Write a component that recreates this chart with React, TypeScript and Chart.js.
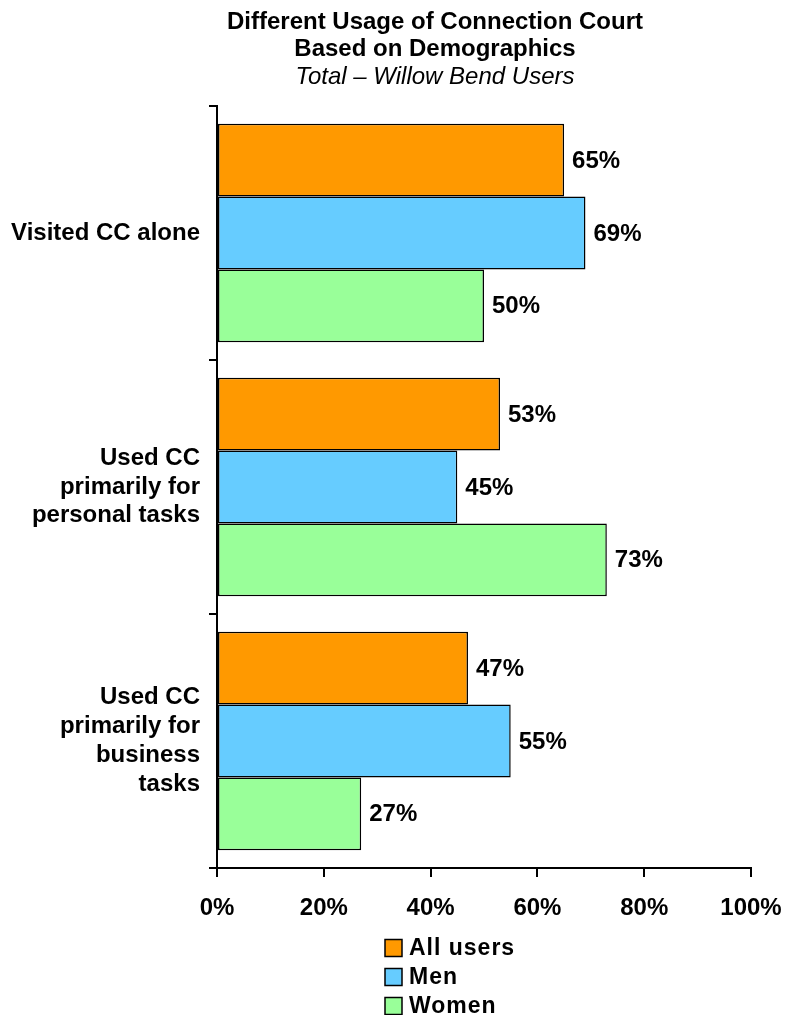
import React, { useEffect, useRef } from "react";
import { Chart, registerables } from "chart.js";

Chart.register(...registerables);

const FONT = "'Liberation Sans', Arial, Helvetica, sans-serif";

const titleLines = ["Different Usage of Connection Court", "Based on Demographics"];
const subtitleText = "Total – Willow Bend Users";

const categories: string[][] = [
  ["Visited CC alone"],
  ["Used CC", "primarily for", "personal tasks"],
  ["Used CC", "primarily for", "business", "tasks"],
];

const seriesNames = ["All users", "Men", "Women"];
const allUsers = [65, 53, 47];
const men = [69, 45, 55];
const women = [50, 73, 27];
const seriesColors = ["#FF9900", "#66CCFF", "#99FF99"];

const xMin = 0;
const xMax = 100;
const xStep = 20;

const titlePlugin = {
  id: "customTitle",
  afterDraw(chart: any) {
    const ctx = chart.ctx;
    ctx.save();
    ctx.fillStyle = "#000";
    ctx.textAlign = "center";
    ctx.textBaseline = "middle";
    ctx.font = `bold 24px ${FONT}`;
    ctx.fillText(titleLines[0], 435, 22);
    ctx.fillText(titleLines[1], 435, 49);
    ctx.font = `italic 24px ${FONT}`;
    ctx.fillText(subtitleText, 435, 77.5);
    ctx.restore();
  },
};

const valueLabelPlugin = {
  id: "valueLabels",
  afterDatasetsDraw(chart: any) {
    const ctx = chart.ctx;
    ctx.save();
    ctx.fillStyle = "#000";
    ctx.textAlign = "left";
    ctx.textBaseline = "middle";
    ctx.font = `bold 24px ${FONT}`;
    chart.data.datasets.forEach((ds: any, i: number) => {
      const meta = chart.getDatasetMeta(i);
      meta.data.forEach((bar: any, j: number) => {
        ctx.fillText(`${ds.data[j]}%`, bar.x + 8, bar.y + 1);
      });
    });
    ctx.restore();
  },
};

const legendPlugin = {
  id: "verticalLegend",
  afterDraw(chart: any) {
    const ctx = chart.ctx;
    ctx.save();
    ctx.textAlign = "left";
    ctx.textBaseline = "middle";
    ctx.font = `bold 23px ${FONT}`;
    try {
      (ctx as any).letterSpacing = "1px";
    } catch (e) {}
    const x0 = 385;
    const y0 = 948;
    const gap = 29;
    chart.data.datasets.forEach((ds: any, i: number) => {
      const cy = y0 + i * gap;
      ctx.fillStyle = ds.backgroundColor;
      ctx.fillRect(x0, cy - 8.5, 17, 17);
      ctx.lineWidth = 1.5;
      ctx.strokeStyle = "#000";
      ctx.strokeRect(x0, cy - 8.5, 17, 17);
      ctx.fillStyle = "#000";
      ctx.fillText(ds.label, x0 + 24, cy + 1);
    });
    ctx.restore();
  },
};

export default function App() {
  const canvasRef = useRef<HTMLCanvasElement | null>(null);

  useEffect(() => {
    const canvas = canvasRef.current;
    if (!canvas) return;
    const seriesValues = [allUsers, men, women];
    const chart = new Chart(canvas, {
      type: "bar",
      data: {
        labels: categories,
        datasets: seriesNames.map((name, i) => ({
          label: name,
          data: seriesValues[i],
          backgroundColor: seriesColors[i],
          borderColor: "#000",
          borderWidth: 1.5,
          borderSkipped: false,
          categoryPercentage: 0.86,
          barPercentage: 1.0,
        })),
      },
      options: {
        indexAxis: "y",
        responsive: false,
        animation: false,
        devicePixelRatio: 1,
        layout: { padding: { top: 106, right: 37, bottom: 87, left: 0 } },
        plugins: {
          legend: { display: false },
          title: { display: false },
          tooltip: { enabled: false },
        },
        scales: {
          x: {
            type: "linear",
            min: xMin,
            max: xMax,
            afterFit(scale: any) {
              scale.height = 60;
              scale.paddingLeft = 0;
              scale.paddingRight = 0;
            },
            ticks: {
              stepSize: xStep,
              color: "#000",
              padding: 17,
              font: { family: FONT, size: 24, weight: "bold" },
              callback: (v: any) => `${v}%`,
            },
            grid: {
              drawOnChartArea: false,
              drawTicks: true,
              tickLength: 9,
              color: "#000",
              lineWidth: 2,
            },
            border: { display: true, color: "#000", width: 2 },
          },
          y: {
            type: "category",
            afterFit(scale: any) {
              scale.width = 217;
              scale.paddingTop = 0;
              scale.paddingBottom = 0;
            },
            ticks: {
              color: "#000",
              padding: 9,
              autoSkip: false,
              font: { family: FONT, size: 24, weight: "bold", lineHeight: 1.2 },
            },
            grid: {
              offset: true,
              drawOnChartArea: false,
              drawTicks: true,
              tickLength: 8,
              color: "#000",
              lineWidth: 2,
            },
            border: { display: true, color: "#000", width: 2 },
          },
        },
      },
      plugins: [titlePlugin, valueLabelPlugin, legendPlugin],
    });
    return () => chart.destroy();
  }, []);

  return (
    <div style={{ position: "absolute", left: 0, top: 0, width: 788, height: 1015, background: "#fff" }}>
      <canvas ref={canvasRef} width={788} height={1015} style={{ display: "block", width: 788, height: 1015 }} />
    </div>
  );
}
